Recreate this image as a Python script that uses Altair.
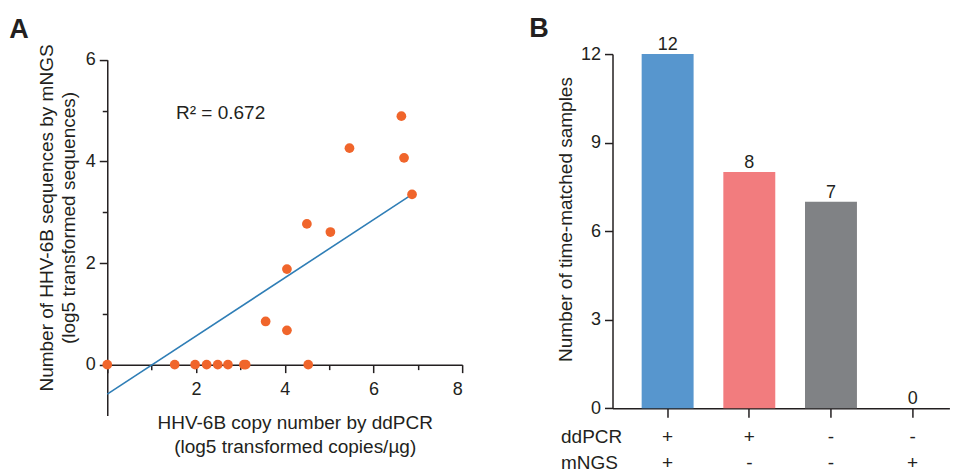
import altair as alt
import pandas as pd

FONT = "Liberation Sans"
INK = "#231F20"

# ---- Panel A data ----
ddpcr_log5 = [0, 1.52, 1.98, 2.24, 2.49, 2.72, 3.08, 3.12, 4.53, 3.57, 4.05, 4.05, 4.50, 5.03, 5.46, 6.63, 6.69, 6.87]
mngs_log5 = [0, 0, 0, 0, 0, 0, 0, 0, 0, 0.85, 0.675, 1.88, 2.77, 2.61, 4.26, 4.89, 4.07, 3.35]
fit_x = [0, 6.82]
fit_y = [-0.58, 3.32]
r2_label = ["R\u00b2 = 0.672"]
r2_x = [1.55]
r2_y = [4.96]
x_ticks_a = [0, 1, 2, 3, 4, 5, 6, 7, 8]
y_ticks_a = [0, 1, 2, 3, 4, 5, 6]

# ---- Panel B data ----
groups = ["+/+", "+/-", "-/-", "-/+"]
counts = [12, 8, 7, 0]
bar_colors = ["#5796CE", "#F27C7E", "#808285", "#808285"]
y_ticks_b = [0, 3, 6, 9, 12]

pts = pd.DataFrame({"x": ddpcr_log5, "y": mngs_log5})
fit = pd.DataFrame({"x": fit_x, "y": fit_y})
r2 = pd.DataFrame({"x": r2_x, "y": r2_y, "t": r2_label})
bars = pd.DataFrame({"g": groups, "n": counts})

A_W, A_H = 355, 361.5
B_W, B_H = 337, 354.3

xs = alt.Scale(domain=[0, 8], nice=False, zero=False)
ys = alt.Scale(domain=[-1, 6], nice=False, zero=False, range=[A_H, 5.7])

odd_small = {"condition": {"test": "datum.value % 2 != 0", "value": 5}, "value": 8}

x_axis_a = alt.Axis(
    values=x_ticks_a, offset=-50.83, grid=False, format="d",
    labelExpr="datum.value % 2 == 0 && datum.value > 0 ? datum.label : ''",
    tickSize=odd_small, labelBaseline="alphabetic", labelPadding=22,
    title=["HHV-6B copy number by ddPCR", "(log5 transformed copies/\u00b5g)"],
    titleX=187.5, titleY=64.3, titleAlign="center", titleBaseline="alphabetic",
    titleAnchor="middle", titleLineHeight=24,
)
y_axis_a = alt.Axis(
    values=y_ticks_a, grid=False, format="d",
    labelExpr="datum.value % 2 == 0 ? datum.label : ''",
    tickSize=odd_small, labelPadding=4,
    title=["Number of HHV-6B sequences by mNGS", "(log5 transformed sequences)"],
    titleX=-54.5, titleY=163.5, titleAlign="center", titleBaseline="alphabetic",
    titleAngle=270, titleLineHeight=21.5,
)

points = alt.Chart(pts).mark_circle(size=95, opacity=1, color="#F0652B").encode(
    x=alt.X("x:Q", scale=xs, axis=x_axis_a),
    y=alt.Y("y:Q", scale=ys, axis=y_axis_a),
)
line = alt.Chart(fit).mark_line(color="#2F7EB6", strokeWidth=1.6).encode(
    x=alt.X("x:Q", scale=xs), y=alt.Y("y:Q", scale=ys)
)
label = alt.Chart(r2).mark_text(align="left", baseline="middle", fontSize=19, font=FONT, color=INK).encode(
    x=alt.X("x:Q", scale=xs), y=alt.Y("y:Q", scale=ys), text="t:N"
)

panel_a = alt.layer(line, points, label).properties(
    width=A_W, height=A_H,
    title=alt.TitleParams("A", anchor="start", frame="group", fontSize=27, fontWeight="bold",
                          font=FONT, color=INK, dx=-98, baseline="alphabetic", offset=-21),
)

x_axis_b = alt.Axis(
    labelExpr="split(datum.label, '/')", labelAngle=0, tickSize=9,
    labelBaseline="alphabetic", labelPadding=25, labelLineHeight=26, labelFontSize=19,
    title=["ddPCR", "mNGS"], titleX=-52, titleY=34.2, titleAlign="left",
    titleBaseline="alphabetic", titleAngle=0, titleLineHeight=26,
)
y_axis_b = alt.Axis(
    values=y_ticks_b, grid=False, tickSize=8, labelPadding=4,
    title="Number of time-matched samples",
    titleX=-41.5, titleY=165, titleAlign="center", titleBaseline="alphabetic", titleAngle=270,
)
xb = alt.Scale(domain=groups, paddingInner=0.364, paddingOuter=0.2445, align=0.73)
yb = alt.Scale(domain=[0, 12], nice=False)

bar = alt.Chart(bars).mark_bar().encode(
    x=alt.X("g:N", sort=groups, scale=xb, axis=x_axis_b),
    y=alt.Y("n:Q", scale=yb, axis=y_axis_b),
    color=alt.Color("g:N", scale=alt.Scale(domain=groups, range=bar_colors), legend=None),
)
btxt = alt.Chart(bars).mark_text(baseline="alphabetic", dy=-4, fontSize=18, font=FONT, color=INK).encode(
    x=alt.X("g:N", sort=groups, scale=xb), y=alt.Y("n:Q", scale=yb), text="n:Q"
)
panel_b = alt.layer(bar, btxt).properties(
    width=B_W, height=B_H,
    title=alt.TitleParams("B", anchor="start", frame="group", fontSize=27, fontWeight="bold",
                          font=FONT, color=INK, dx=-83.4, baseline="alphabetic", offset=-28),
)

chart = alt.hconcat(panel_a, panel_b, spacing=150.4, bounds="flush").properties(
    padding={"left": 1.3, "top": 7, "right": 0, "bottom": 0}
).configure_view(stroke=None).configure_axis(
    domainColor=INK, domainWidth=1.5, tickColor=INK, tickWidth=1.5,
    labelFont=FONT, labelFontSize=18, labelColor=INK,
    titleFont=FONT, titleFontSize=19, titleColor=INK, titleFontWeight="normal",
)

chart.save("out.html", embed_options={"renderer": "svg", "actions": False})
